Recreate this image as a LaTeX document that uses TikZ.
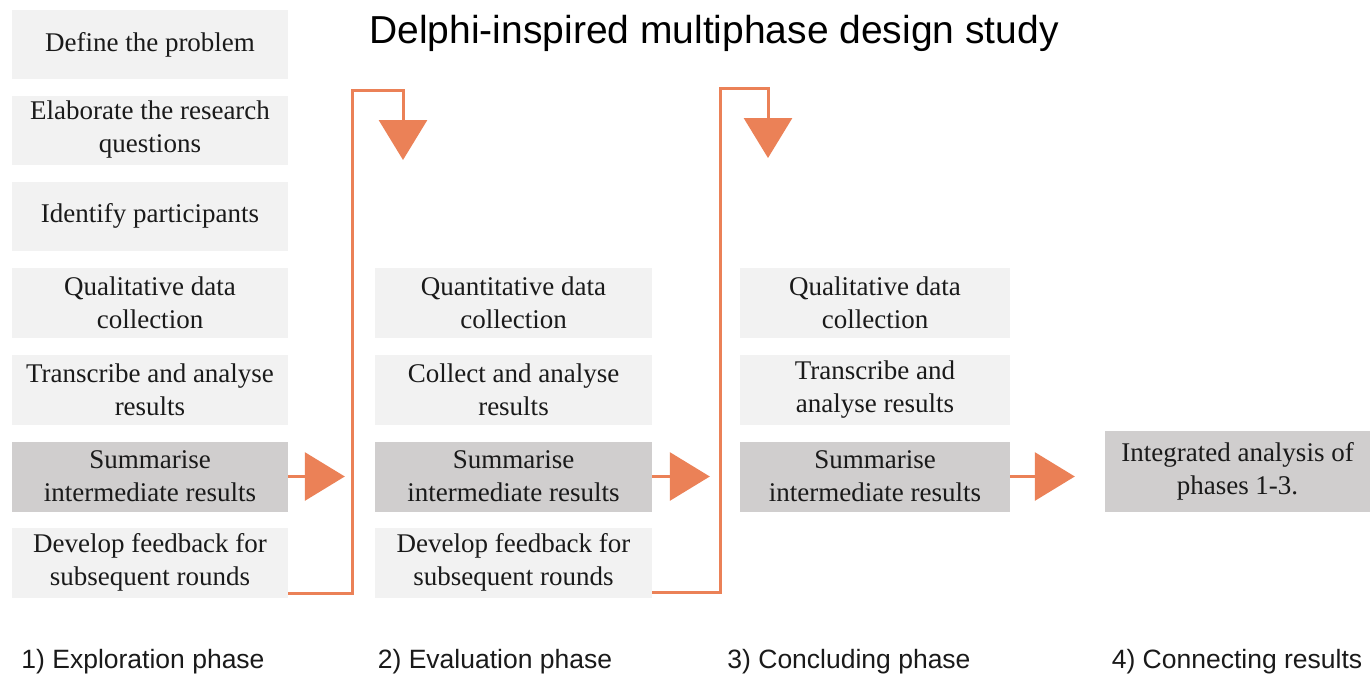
\documentclass[tikz,border=0pt]{standalone}
\usepackage{fontspec}
\setmainfont{Liberation Serif}
\newfontfamily\labfont{Liberation Sans}
\usetikzlibrary{arrows.meta}
\definecolor{lightbox}{HTML}{F2F2F2}
\definecolor{darkbox}{HTML}{D0CECE}
\definecolor{orng}{HTML}{EB8157}
\definecolor{txt}{HTML}{1A1A1A}
\tikzset{
  box/.style={fill=lightbox, draw=none, text=txt, align=center, inner sep=0pt,
    font=\fontsize{27}{33}\selectfont},
  darkb/.style={box, fill=darkbox},
  conn/.style={draw=orng, line width=3pt, line join=miter,
    -{Triangle[width=48pt,length=40pt,fill=orng]}},
  harr/.style={draw=orng, line width=3pt,
    -{Triangle[width=48pt,length=40pt,fill=orng]}},
  phase/.style={font=\labfont\fontsize{26.5}{30}\selectfont, text=txt, inner sep=0pt},
}
\begin{document}
\begin{tikzpicture}[x=1pt,y=-1pt]
\useasboundingbox[fill=white] (0,0) rectangle (1370,677);
% column 1
\node[box, minimum width=276pt, minimum height=68pt] (a1) at (150,44.5) {Define the problem};
\node[box, minimum width=276pt, minimum height=69pt] (a2) at (150,130) {Elaborate the research\\questions};
\node[box, minimum width=276pt, minimum height=69pt] (a3) at (150,216) {Identify participants};
\node[box, minimum width=276pt, minimum height=70pt] (a4) at (150,302.5) {Qualitative data\\collection};
\node[box, minimum width=276pt, minimum height=70pt] (a5) at (150,389.5) {Transcribe and analyse\\results};
\node[darkb, minimum width=276pt, minimum height=70pt] (a6) at (150,476.5) {Summarise\\intermediate results};
\node[box, minimum width=276pt, minimum height=70pt] (a7) at (150,562.5) {Develop feedback for\\subsequent rounds};
% column 2
\node[box, minimum width=277pt, minimum height=70pt] (b4) at (513.5,302.5) {Quantitative data\\collection};
\node[box, minimum width=277pt, minimum height=70pt] (b5) at (513.5,389.5) {Collect and analyse\\results};
\node[darkb, minimum width=277pt, minimum height=70pt] (b6) at (513.5,476.5) {Summarise\\intermediate results};
\node[box, minimum width=277pt, minimum height=70pt] (b7) at (513.5,562.5) {Develop feedback for\\subsequent rounds};
% column 3
\node[box, minimum width=270pt, minimum height=70pt] (c4) at (875,302.5) {Qualitative data\\collection};
\node[box, minimum width=270pt, minimum height=70pt] (c5) at (875,389.5) {Transcribe and\\analyse results};
\node[darkb, minimum width=270pt, minimum height=70pt] (c6) at (875,476.5) {Summarise\\intermediate results};
% column 4
\node[darkb, minimum width=265pt, minimum height=81pt] (d6) at (1237.5,471) {Integrated analysis of\\phases 1-3.};
% title
\node[font=\labfont\fontsize{39}{44}\selectfont, text=black, inner sep=0pt] (title) at (714,33) {Delphi-inspired multiphase design study};
% connectors
\coordinate (t1) at (403,160);
\coordinate (t2) at (768,158);
\draw[conn] (a7.east |- 0,593) -- (352,593) -- (352,90) -- (403,90) -- (t1);
\draw[conn] (b7.east |- 0,592) -- (720,592) -- (720,88) -- (768,88) -- (t2);
\draw[harr] (a6.east) -- ([xshift=-30pt]b6.west);
\draw[harr] (b6.east) -- ([xshift=-30pt]c6.west);
\draw[harr] (c6.east) -- ([xshift=-30pt]d6.west |- c6.east);
% phase labels
\node[phase] (p1) at (143,662) {1) Exploration phase};
\node[phase] (p2) at (495,662) {2) Evaluation phase};
\node[phase] (p3) at (849,662) {3) Concluding phase};
\node[phase] (p4) at (1237,662) {4) Connecting results};
\end{tikzpicture}
\end{document}
